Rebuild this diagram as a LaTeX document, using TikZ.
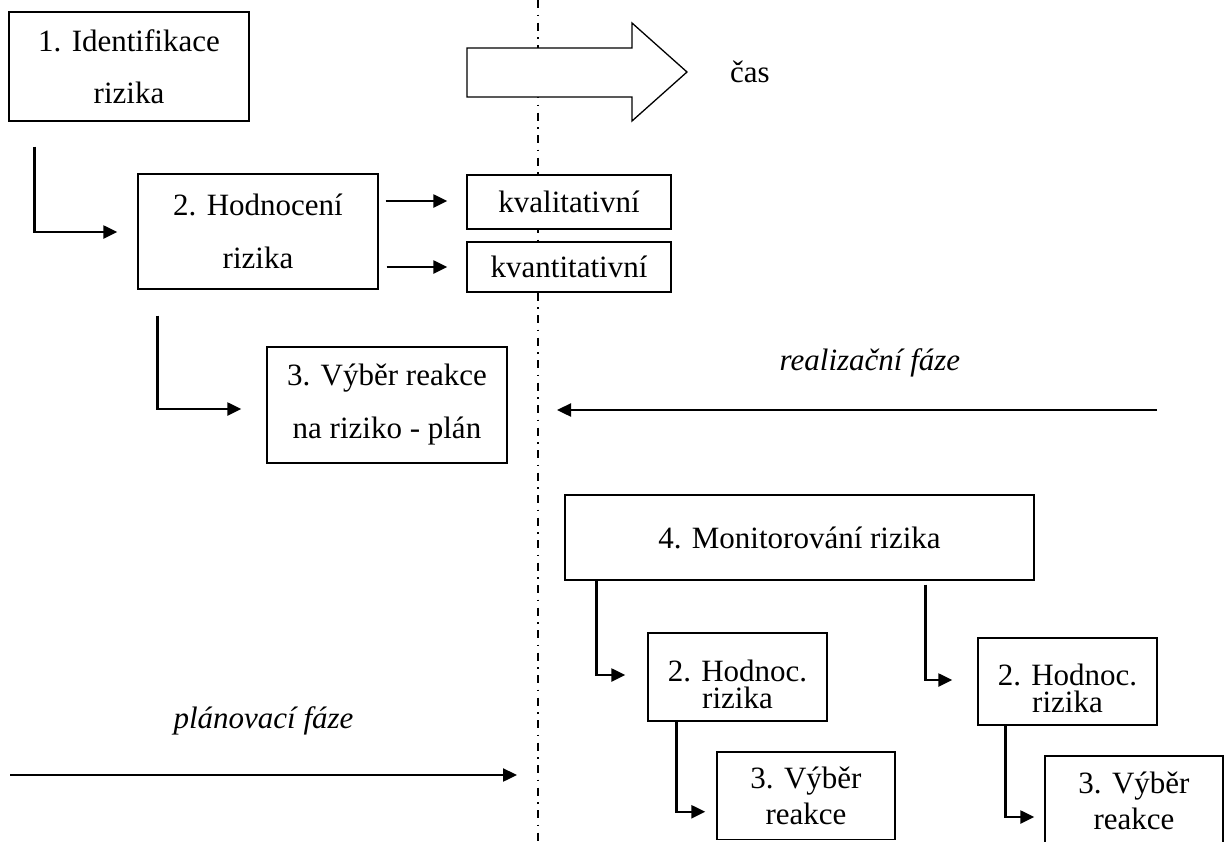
\documentclass[tikz,border=0pt]{standalone}
\usepackage{fontspec}
\setmainfont{Liberation Serif}
\usetikzlibrary{arrows.meta,calc}

\begin{document}
\begin{tikzpicture}[x=1pt,y=-1pt,
  box/.style={draw, line width=1.4pt, fill=white, inner sep=0pt, align=center},
  wide/.style={font=\fontsize{31}{52}\selectfont},
  wider/.style={font=\fontsize{31}{53}\selectfont},
  tight/.style={font=\fontsize{31}{27}\selectfont},
  mid/.style={font=\fontsize{31}{36}\selectfont},
  single/.style={font=\fontsize{31}{36}\selectfont},
  conn/.style={line width=2.4pt, -{Triangle[length=14pt,width=13pt]}},
  phase/.style={font=\fontsize{31}{36}\selectfont\itshape, anchor=base},
  divider/.style={line width=1.5pt, dash pattern=on 8pt off 6.5pt on 1.5pt off 6.5pt}
]
\useasboundingbox (0,0) rectangle (1232,841);
\clip (0,0) rectangle (1232,841);
\fill[white] (0,0) rectangle (1232,841);

% boundary between planning and realisation
\coordinate (dtop) at (538,0);
\coordinate (dbot) at (538,841);
\draw[divider] (dtop) -- (dbot);

% time arrow
\draw[line width=1.3pt, fill=white]
  (467,48) -- (632,48) -- (632,23) -- (687,72) -- (632,121) -- (632,97) -- (467,97) -- cycle;
\node[single, anchor=base] (cas) at (750,82) {čas};

% planning phase
\node[box, wide, minimum width=240pt, minimum height=109pt] (b1) at (129,66.5)
  {1. Identifikace\\rizika};
\node[box, wider, minimum width=240pt, minimum height=115pt] (b2) at (258,231.5)
  {2. Hodnocení\\rizika};
\node[box, single, minimum width=204pt, minimum height=54pt] (kval) at (569,202)
  {kvalitativní};
\node[box, single, minimum width=204pt, minimum height=50pt] (kvant) at (569,267)
  {kvantitativní};
\node[box, wider, minimum width=240pt, minimum height=116pt] (b3) at (387,405)
  {3. Výběr reakce\\na riziko - plán};

\draw[conn] ($(b1.south west)+(26,25)$) |- ($(b2.west)+(-20,0.5)$);
\draw[conn] ($(b2.south west)+(20,26)$) |- ($(b3.west)+(-25,4)$);
\draw[conn] ($(b2.east |- kval.west)+(7,-1)$) -- ($(kval.west)+(-19,-1)$);
\draw[conn] ($(b2.east |- kvant.west)+(8,0)$) -- ($(kvant.west)+(-19,0)$);

% realisation phase
\node[box, single, minimum width=469pt, minimum height=85pt] (b4) at (799.5,537.5)
  {4. Monitorování rizika};
\node[box, tight, minimum width=179pt, minimum height=88pt] (b2a) at (737.5,677)
  {\rule{0pt}{36pt}2. Hodnoc.\\rizika};
\node[box, tight, minimum width=179pt, minimum height=87pt] (b2b) at (1067.5,681.5)
  {\rule{0pt}{36pt}2. Hodnoc.\\rizika};
\node[box, mid, minimum width=178pt, minimum height=87.5pt] (b3a) at (806,795.75)
  {3. Výběr\\reakce};
\node[box, mid, minimum width=178pt, minimum height=90pt] (b3b) at (1134,801)
  {3. Výběr\\reakce};

\draw[conn] ($(b4.south west)+(32,0)$) |- ($(b2a.west)+(-22,-2)$);
\draw[conn] ($(b4.south west)+(361,4)$) |- ($(b2b.west)+(-25,-1.5)$);
\draw[conn] ($(b2a.south west)+(29,0)$) |- ($(b3a.west)+(-11,16)$);
\draw[conn] ($(b2b.south west)+(28,0)$) |- ($(b3b.west)+(-10,16)$);

% phase arrows
\node[phase] (realiz) at (870,370) {realizační fáze};
\coordinate (rstart) at (1157,410);
\coordinate (rend) at (557,410);
\draw[conn] (rstart) -- (rend);

\node[phase] (plan) at (263.5,728) {plánovací fáze};
\coordinate (pstart) at (10,775);
\coordinate (pend) at (517,775);
\draw[conn] (pstart) -- (pend);
\end{tikzpicture}
\end{document}
